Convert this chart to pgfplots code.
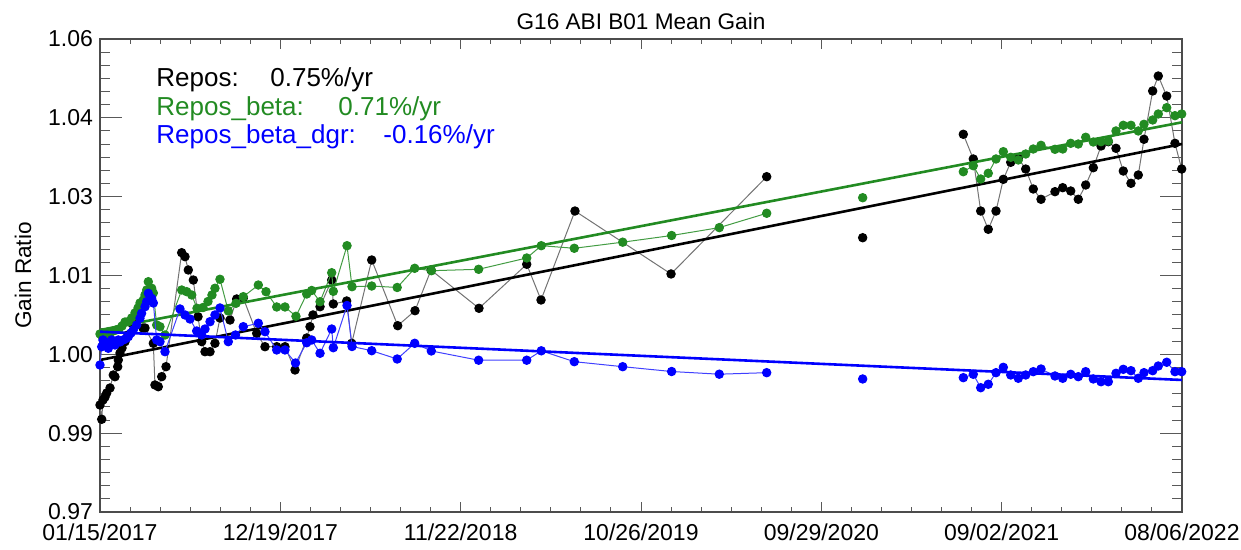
\documentclass[border=0pt]{standalone}
\usepackage{fontspec}
\setmainfont{Liberation Sans}
\usepackage{pgfplots}
\pgfplotsset{compat=1.18}
\usepackage{pgfplotstable}
\definecolor{fgreen}{RGB}{34,139,34}

% x = days since 01/15/2017, y = gain ratio
\pgfplotstableread{
x y
0 0.99036
3.2 0.98764
5.6 0.99131
9.4 0.99188
12.6 0.99264
18.8 0.99360
24.9 0.99607
28.1 0.99574
33.2 0.99765
34.3 0.99892
37.5 1.00025
41.3 1.00121
46.9 1.00241
52.5 1.00368
59.4 1.00596
65.6 1.00615
80.6 1.00501
84.4 1.00501
100.0 1.00210
103.1 0.99417
109.3 0.99384
115.7 0.99575
123.8 0.99765
153.2 1.01934
159.4 1.01858
165.6 1.01605
175.0 1.01414
183.8 1.00716
190.7 1.00241
196.9 1.00050
206.3 1.00050
215.6 1.00210
225.0 1.00691
243.8 1.00653
256.3 1.01053
268.7 1.01072
293.8 1.00400
309.4 1.00145
331.4 1.00145
346.9 1.00145
365.7 0.99702
387.6 1.00311
393.8 1.00526
399.4 1.00749
412.6 1.00906
434.5 1.01414
437.5 1.00958
462.6 1.01015
472.0 1.00210
509.5 1.01795
558.3 1.00545
590.7 1.00830
620.7 1.01605
710.7 1.00876
800.2 1.01713
827.0 1.01034
890.7 1.02727
1070.8 1.01529
1250.2 1.03380
1340 nan
1430.2 1.02219
1520 nan
1618.9 1.04187
1637.6 1.03717
1651.5 1.02727
1665.7 1.02379
1680.2 1.02727
1693.9 1.03330
1707.8 1.03654
1722.0 1.03730
1735.9 1.03526
1750.1 1.03146
1764.6 1.02950
1790.8 1.03095
1805.3 1.03171
1820.3 1.03108
1834.5 1.02950
1848.4 1.03222
1862.7 1.03551
1877.1 1.03964
1890.8 1.04046
1905.2 1.03920
1918.9 1.03488
1933.3 1.03254
1947.0 1.03412
1957.7 1.04092
1974.0 1.05011
1984.5 1.05296
2000.3 1.04915
2015.8 1.04015
2028.4 1.03526
}\repos

\pgfplotstableread{
x y
0 1.00387
3.8 1.00349
7.5 1.00406
11.3 1.00368
15.0 1.00425
18.8 1.00406
24.4 1.00444
30.0 1.00463
35.6 1.00482
41.3 1.00539
46.9 1.00615
52.5 1.00621
59.4 1.00692
65.6 1.00787
71.3 1.00882
75.0 1.00977
81.2 1.01034
84.4 1.01129
87.6 1.01224
90.6 1.01382
96.9 1.01257
100.0 1.01167
106.3 1.00558
112.5 1.00526
121.9 1.00368
153.2 1.01224
162.6 1.01192
172.0 1.01129
181.9 1.00876
193.1 1.00891
202.5 1.01005
210.0 1.01129
215.6 1.01257
225.0 1.01428
240.6 1.00825
255.0 1.00971
268.7 1.01097
296.9 1.01319
311.3 1.01192
331.4 1.00901
346.9 1.00901
367.5 1.00724
387.6 1.01148
397.0 1.01215
412.6 1.01001
434.5 1.01553
437.5 1.01199
463.2 1.02067
472.6 1.01287
509.5 1.01300
557.3 1.01272
590.1 1.01637
621.6 1.01591
710.0 1.01618
800.2 1.01833
827.5 1.02067
889.4 1.02018
980.2 1.02134
1071.9 1.02261
1161.3 1.02411
1250.2 1.02684
1340 nan
1430.2 1.02980
1520 nan
1618.9 1.03475
1637.6 1.03589
1651.5 1.03336
1665.7 1.03445
1680.2 1.03717
1693.9 1.03856
1707.8 1.03749
1722.0 1.03698
1735.9 1.03812
1750.1 1.03907
1764.6 1.03977
1790.8 1.03901
1805.3 1.03907
1820.3 1.04015
1834.5 1.04002
1848.4 1.04130
1862.7 1.04040
1877.1 1.04046
1890.8 1.04059
1905.2 1.04250
1918.9 1.04358
1933.3 1.04358
1947.0 1.04250
1957.7 1.04377
1974.0 1.04459
1984.5 1.04573
2000.3 1.04693
2015.8 1.04541
2028.4 1.04573
}\reposbeta

\pgfplotstableread{
x y
0 0.99797
3.2 1.00145
5.6 1.00273
9.4 1.00210
15.6 1.00115
18.8 1.00235
21.9 1.00273
25.3 1.00197
28.1 1.00178
34.3 1.00273
37.5 1.00235
43.7 1.00273
48.8 1.00301
53.1 1.00336
58.1 1.00406
62.4 1.00463
68.8 1.00558
75.0 1.00686
78.0 1.00781
84.4 1.00906
87.6 1.01002
90.6 1.01161
96.9 1.01066
100.0 1.00977
106.3 1.00273
112.5 1.00241
121.9 1.00050
150.0 1.00863
159.4 1.00749
168.8 1.00672
181.3 1.00444
190.7 1.00368
196.9 1.00482
206.3 1.00621
215.6 1.00749
225.0 1.00882
240.6 1.00241
254.1 1.00368
268.7 1.00526
296.9 1.00591
309.4 1.00431
331.4 1.00083
346.9 1.00083
366.6 0.99835
387.6 1.00221
397.0 1.00273
412.6 1.00020
434.5 1.00482
437.5 1.00126
463.2 1.00929
472.6 1.00149
509.5 1.00069
557.3 0.99911
590.1 1.00210
621.3 1.00064
710.0 0.99888
800.2 0.99888
827.5 1.00067
889.4 0.99860
980.2 0.99765
1071.9 0.99673
1161.3 0.99622
1250.2 0.99651
1340 nan
1430.2 0.99531
1520 nan
1618.9 0.99556
1637.6 0.99620
1651.5 0.99365
1665.7 0.99430
1680.2 0.99651
1693.9 0.99753
1707.8 0.99607
1722.0 0.99544
1735.9 0.99607
1750.1 0.99670
1764.6 0.99721
1790.8 0.99588
1805.3 0.99544
1820.3 0.99620
1834.5 0.99575
1848.4 0.99670
1862.7 0.99531
1877.1 0.99479
1890.8 0.99479
1905.2 0.99639
1918.9 0.99715
1933.3 0.99689
1947.0 0.99544
1957.7 0.99651
1974.0 0.99689
1984.5 0.99778
2000.3 0.99849
2015.8 0.99670
2028.4 0.99670
}\reposdgr

\begin{document}
\begin{tikzpicture}
\useasboundingbox (-50pt,-19pt) rectangle (570.5pt,256pt);
\begin{axis}[
    scale only axis,
    width=541pt, height=236.5pt,
    xmin=0, xmax=2029,
    ymin=0.97, ymax=1.06,
    xtick={0,338.1667,676.3333,1014.5,1352.6667,1690.8333,2029},
    xticklabels={01/15/2017,12/19/2017,11/22/2018,10/26/2019,09/29/2020,09/02/2021,08/06/2022},
    ytick={0.97,0.985,1.0,1.015,1.03,1.045,1.06},
    yticklabels={0.97,0.99,1.00,1.01,1.03,1.04,1.06},
    minor x tick num=5, minor y tick num=5,
    xtick style={/pgfplots/major tick length=4.8pt, /pgfplots/minor tick length=2.4pt},
    ytick style={/pgfplots/major tick length=10.8pt, /pgfplots/minor tick length=5pt},
    tick style={black!65, line width=0.5pt},
    axis line style={black!70, line width=0.6pt},
    tick label style={font=\fontsize{11.5}{13}\selectfont},
    xticklabel style={yshift=-2.5pt},
    /pgf/number format/assume math mode=true,
    title={G16 ABI B01 Mean Gain},
    title style={font=\fontsize{11.3}{13}\selectfont, at={(0.5,1)}, anchor=base, yshift=-1pt, inner sep=0pt},
    ylabel={Gain Ratio},
    ylabel style={font=\fontsize{11.3}{13}\selectfont, at={(axis description cs:-0.0712,0.5)}, anchor=center},
    clip mode=individual,
    unbounded coords=jump,
]
\addplot[color=black!55, line width=0.5pt, mark=*, mark size=2.1pt, mark options={draw=black, fill=black, solid}] table {\repos};
\addplot[color=black, line width=1.3pt] coordinates {(0,0.99892) (2029,1.04002)};
\addplot[color=fgreen!85, line width=0.5pt, mark=*, mark size=2.1pt, mark options={draw=fgreen, fill=fgreen, solid}] table {\reposbeta};
\addplot[color=fgreen, line width=1.3pt] coordinates {(0,1.00463) (2029,1.04415)};
\addplot[color=blue!75, line width=0.5pt, mark=*, mark size=2.1pt, mark options={draw=blue, fill=blue, solid}] table {\reposdgr};
\addplot[color=blue, line width=1.3pt] coordinates {(0,1.00431) (2029,0.99512)};

\node[anchor=base west, inner sep=0pt, text=black, font=\fontsize{13}{15}\selectfont] at (rel axis cs:0.0518,0.9006) {Repos:};
\node[anchor=base west, inner sep=0pt, text=black, font=\fontsize{13}{15}\selectfont] at (rel axis cs:0.1571,0.9006) {0.75\%/yr};
\node[anchor=base west, inner sep=0pt, text=fgreen, font=\fontsize{13}{15}\selectfont] at (rel axis cs:0.0518,0.8393) {Repos\_beta:};
\node[anchor=base west, inner sep=0pt, text=fgreen, font=\fontsize{13}{15}\selectfont] at (rel axis cs:0.2200,0.8393) {0.71\%/yr};
\node[anchor=base west, inner sep=0pt, text=blue, font=\fontsize{13}{15}\selectfont] at (rel axis cs:0.0518,0.7795) {Repos\_beta\_dgr:};
\node[anchor=base west, inner sep=0pt, text=blue, font=\fontsize{13}{15}\selectfont] at (rel axis cs:0.2616,0.7795) {-0.16\%/yr};
\end{axis}
\end{tikzpicture}
\end{document}
